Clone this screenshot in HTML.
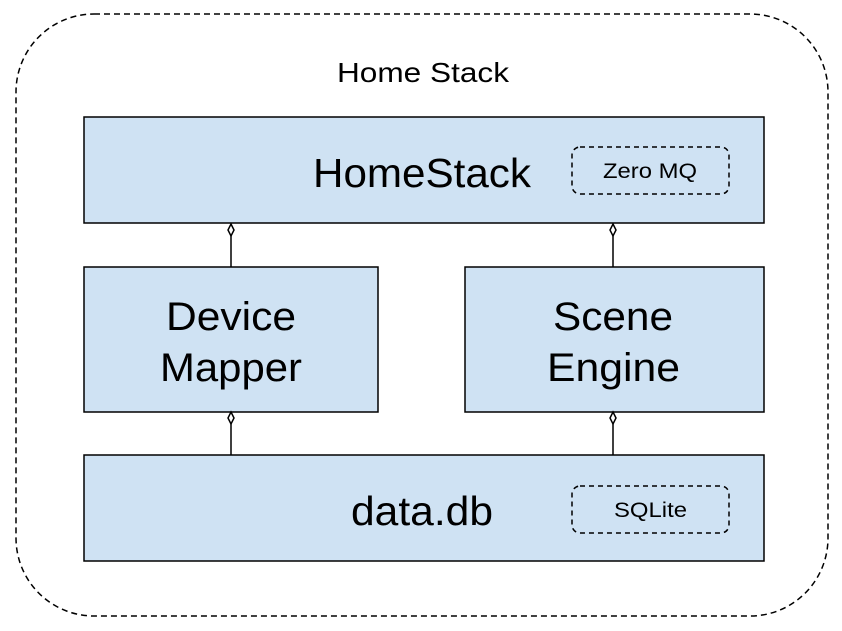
<!DOCTYPE html>
<html><head><meta charset="utf-8"><style>
html,body{margin:0;padding:0;background:#fff;}
</style></head><body>
<svg width="842" height="626" xmlns="http://www.w3.org/2000/svg" font-family="Liberation Sans, Arial, sans-serif">
<rect x="16" y="14" width="812" height="602" rx="78" ry="78" fill="#fff" stroke="#000" stroke-width="1.5" stroke-dasharray="6,4"/>
<text x="337" y="82" font-size="28" textLength="172" lengthAdjust="spacingAndGlyphs">Home Stack</text>
<rect x="84" y="117" width="680" height="106" fill="#cfe2f3" stroke="#000" stroke-width="1.5"/>
<text x="313" y="187" font-size="41" textLength="218" lengthAdjust="spacingAndGlyphs">HomeStack</text>
<rect x="572" y="147" width="157" height="47" rx="8" fill="none" stroke="#000" stroke-width="1.5" stroke-dasharray="5,4"/>
<text x="603" y="178" font-size="21" textLength="94" lengthAdjust="spacingAndGlyphs">Zero MQ</text>
<rect x="84" y="267" width="294" height="145" fill="#cfe2f3" stroke="#000" stroke-width="1.5"/>
<text x="166" y="330" font-size="40" textLength="130" lengthAdjust="spacingAndGlyphs">Device</text>
<text x="160" y="381" font-size="40" textLength="142" lengthAdjust="spacingAndGlyphs">Mapper</text>
<rect x="465" y="267" width="299" height="145" fill="#cfe2f3" stroke="#000" stroke-width="1.5"/>
<text x="553" y="330" font-size="40" textLength="120" lengthAdjust="spacingAndGlyphs">Scene</text>
<text x="547" y="381" font-size="40" textLength="133" lengthAdjust="spacingAndGlyphs">Engine</text>
<rect x="84" y="455" width="680" height="106" fill="#cfe2f3" stroke="#000" stroke-width="1.5"/>
<text x="351" y="525" font-size="41" textLength="142" lengthAdjust="spacingAndGlyphs">data.db</text>
<rect x="572" y="486" width="157" height="47" rx="8" fill="none" stroke="#000" stroke-width="1.5" stroke-dasharray="5,4"/>
<text x="614" y="517" font-size="21" textLength="73" lengthAdjust="spacingAndGlyphs">SQLite</text>
<g stroke="#000" stroke-width="1.5" fill="#fff">
<line x1="231" y1="236" x2="231" y2="267"/>
<line x1="613" y1="236" x2="613" y2="267"/>
<line x1="231" y1="424" x2="231" y2="455"/>
<line x1="613" y1="424" x2="613" y2="455"/>
<path d="M231 224 L234 230 L231 236 L228 230 Z"/>
<path d="M613 224 L616 230 L613 236 L610 230 Z"/>
<path d="M231 412 L234 418 L231 424 L228 418 Z"/>
<path d="M613 412 L616 418 L613 424 L610 418 Z"/>
</g>
</svg>
</body></html>
